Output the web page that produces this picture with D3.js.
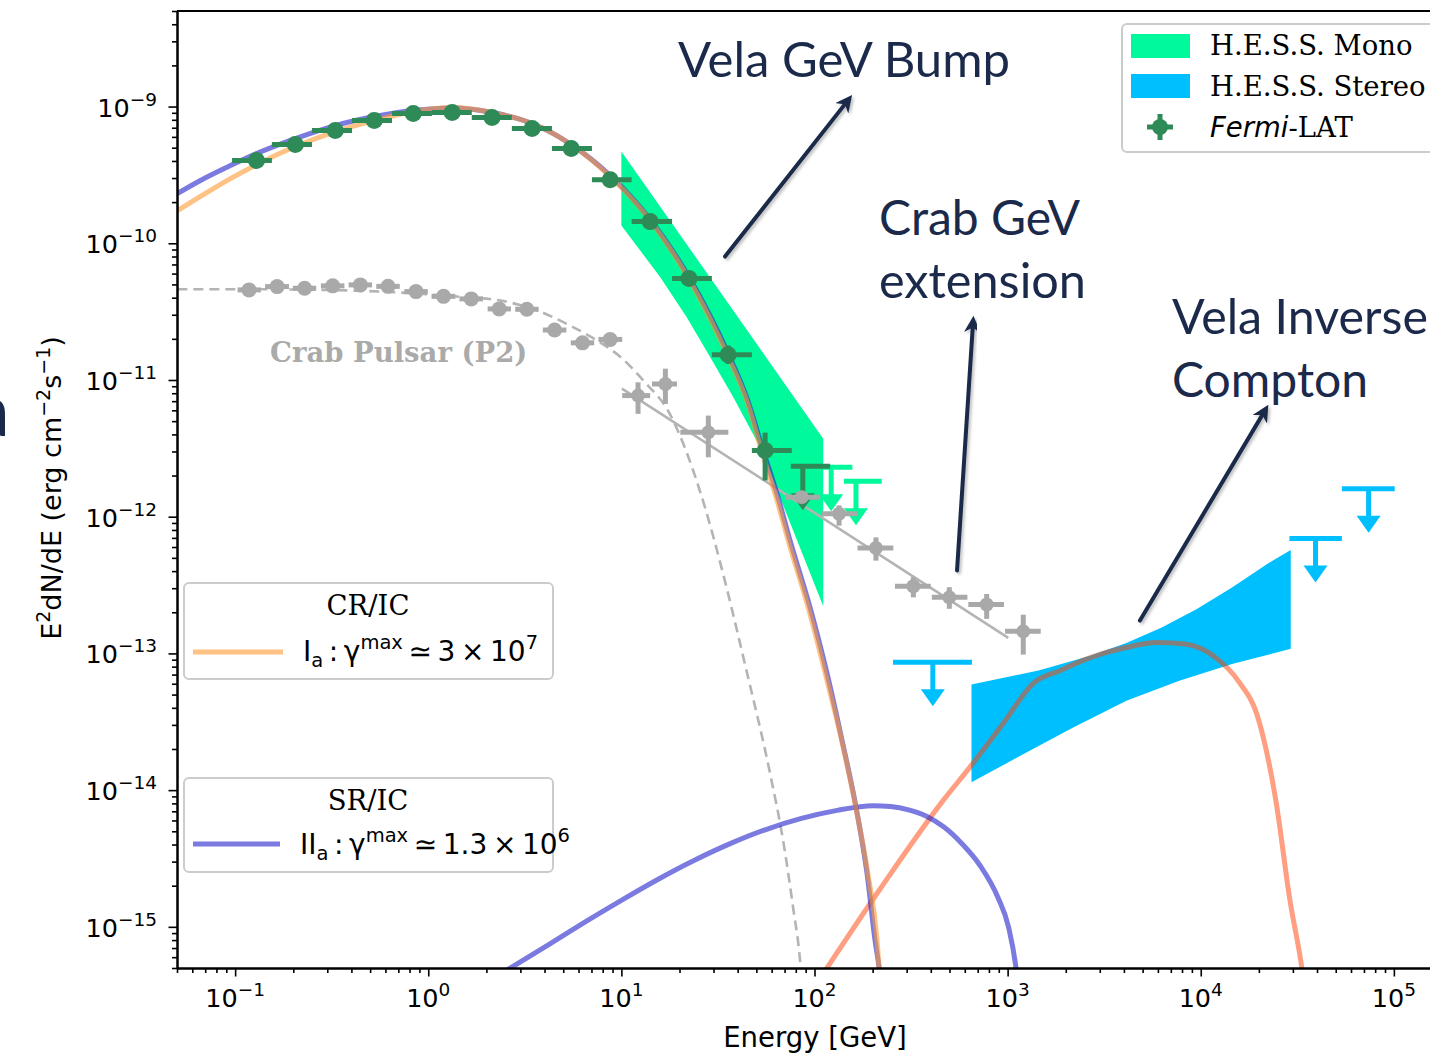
<!DOCTYPE html>
<html>
<head>
<meta charset="utf-8">
<script src="https://cdn.jsdelivr.net/npm/d3@7"></script>
<style>
  html, body { margin: 0; padding: 0; background: #ffffff; overflow: hidden; }
  svg { display: block; }
</style>
</head>
<body>
<svg id="chart" width="1430" height="1061"></svg>
<script>
// ---------------- data (energy in GeV, E^2 dN/dE in erg cm^-2 s^-1) ----------------

// Fermi-LAT Vela spectrum
const fermiE   = [0.129, 0.205, 0.330, 0.525, 0.836, 1.33, 2.14, 3.45, 5.50, 8.75, 14.1, 22.4, 35.7, 55.5];
const fermiELo = [0.0964, 0.155, 0.250, 0.403, 0.649, 1.045, 1.68, 2.71, 4.37, 7.04, 11.3, 18.3, 29.4, 47.4];
const fermiEHi = [0.155, 0.250, 0.403, 0.649, 1.045, 1.68, 2.71, 4.37, 7.04, 11.3, 18.3, 29.4, 47.4, 76.3];
const fermiF   = [4.03e-10, 5.27e-10, 6.67e-10, 7.90e-10, 8.89e-10, 9.04e-10, 8.31e-10, 6.90e-10, 4.93e-10, 2.92e-10, 1.44e-10, 5.52e-11, 1.53e-11, 3.05e-12];
const fermiFLo = [3.91e-10, 5.12e-10, 6.49e-10, 7.69e-10, 8.66e-10, 8.80e-10, 8.08e-10, 6.70e-10, 4.77e-10, 2.81e-10, 1.37e-10, 5.20e-11, 1.31e-11, 1.84e-12];
const fermiFHi = [4.15e-10, 5.42e-10, 6.85e-10, 8.11e-10, 9.12e-10, 9.28e-10, 8.54e-10, 7.10e-10, 5.09e-10, 3.03e-10, 1.51e-10, 5.84e-11, 1.79e-11, 4.12e-12];

// Fermi-LAT upper limit
const fermiUlE   = [87.0];
const fermiUlELo = [75.4];
const fermiUlEHi = [120.5];
const fermiUlF   = [2.34e-12];

// H.E.S.S. Mono upper limits
const monoUlE   = [122, 164];
const monoUlELo = [94.9, 142];
const monoUlEHi = [157, 223];
const monoUlF   = [2.30e-12, 1.82e-12];

// H.E.S.S. Stereo upper limits
const stereoUlE   = [410, 39300, 74000];
const stereoUlELo = [255, 28800, 53800];
const stereoUlEHi = [654, 53800, 101000];
const stereoUlF   = [8.61e-14, 6.92e-13, 1.60e-12];

// H.E.S.S. Mono butterfly (upper and lower edges)
const monoUpE = [10.0, 33.2, 111];
const monoUpF = [4.69e-10, 4.22e-11, 3.72e-12];
const monoLoE = [10.0, 15.9, 21.8, 28.8, 38.0, 52.3, 111];
const monoLoF = [1.35e-10, 5.64e-11, 2.88e-11, 1.47e-11, 7.47e-12, 3.22e-12, 2.21e-13];

// H.E.S.S. Stereo butterfly (upper and lower edges)
const stereoUpE = [650, 1445, 2712, 4121, 6281, 9546, 14520, 22080, 29250];
const stereoUpF = [5.92e-14, 7.49e-14, 9.64e-14, 1.19e-13, 1.55e-13, 2.11e-13, 3.04e-13, 4.51e-13, 5.71e-13];
const stereoLoE = [650, 1170, 2198, 4121, 7742, 14520, 29250];
const stereoLoF = [1.14e-14, 1.79e-14, 2.88e-14, 4.51e-14, 6.32e-14, 8.38e-14, 1.08e-13];

// Crab pulsar P2, low-energy points
const crabE   = [0.118, 0.165, 0.229, 0.320, 0.445, 0.619, 0.864, 1.20, 1.67, 2.33, 3.24, 4.51, 6.29, 8.75];
const crabELo = [0.103, 0.143, 0.199, 0.278, 0.387, 0.538, 0.751, 1.04, 1.45, 2.03, 2.82, 3.92, 5.47, 7.61];
const crabEHi = [0.136, 0.190, 0.263, 0.368, 0.512, 0.712, 0.994, 1.38, 1.92, 2.68, 3.73, 5.19, 7.23, 10.1];
const crabF   = [4.56e-11, 4.82e-11, 4.69e-11, 4.88e-11, 4.96e-11, 4.84e-11, 4.43e-11, 4.09e-11, 3.92e-11, 3.31e-11, 3.29e-11, 2.32e-11, 1.87e-11, 1.98e-11];
const crabFLo = [4.40e-11, 4.66e-11, 4.53e-11, 4.72e-11, 4.80e-11, 4.68e-11, 4.27e-11, 3.94e-11, 3.77e-11, 3.17e-11, 3.14e-11, 2.20e-11, 1.76e-11, 1.86e-11];
const crabFHi = [4.72e-11, 4.98e-11, 4.85e-11, 5.04e-11, 5.12e-11, 5.00e-11, 4.59e-11, 4.24e-11, 4.07e-11, 3.45e-11, 3.44e-11, 2.44e-11, 1.98e-11, 2.10e-11];

// Crab pulsar P2, high-energy points
const crabHeE   = [12.2, 16.9, 28.2, 85.9, 134, 208, 325, 499, 779, 1205];
const crabHeELo = [10.1, 14.4, 20.2, 70.4, 109, 167, 261, 405, 626, 970];
const crabHeEHi = [14.1, 19.4, 35.8, 107, 166, 256, 400, 619, 958, 1484];
const crabHeF   = [7.69e-12, 9.35e-12, 4.14e-12, 1.39e-12, 1.05e-12, 5.91e-13, 3.10e-13, 2.57e-13, 2.28e-13, 1.45e-13];
const crabHeFLo = [5.65e-12, 6.68e-12, 2.72e-12, 1.30e-12, 8.60e-13, 4.77e-13, 2.57e-13, 2.12e-13, 1.79e-13, 9.80e-14];
const crabHeFHi = [9.62e-12, 1.21e-11, 5.49e-12, 1.48e-12, 1.21e-12, 7.06e-13, 3.61e-13, 3.05e-13, 2.72e-13, 1.92e-13];

// Crab power-law fit and cutoff fit
const crabPlE = [10.06, 1008];
const crabPlF = [8.65e-12, 1.30e-13];
const crabCutE = [0.0502, 0.120, 0.311, 0.716, 1.30, 2.36, 3.67, 5.43, 7.49, 9.86, 13.0, 17.9, 20.9, 27.1, 33.6, 43.7, 58.9, 68.8, 77.5, 84.2, 86.3];
const crabCutF = [4.61e-11, 4.61e-11, 4.55e-11, 4.36e-11, 4.11e-11, 3.81e-11, 3.22e-11, 2.50e-11, 1.94e-11, 1.48e-11, 9.90e-12, 5.58e-12, 3.43e-12, 1.17e-12, 3.84e-13, 8.28e-14, 1.32e-14, 4.27e-15, 1.38e-15, 5.66e-16, 3.71e-16];

// Model curves
const srE = [0.0502, 0.0661, 0.0945, 0.129, 0.205, 0.330, 0.525, 0.836, 1.33, 2.145, 3.454, 5.498, 8.750, 14.10, 22.44, 35.71, 44.78, 54.19, 64.80, 74.76, 94.89, 116.2, 139.0, 164.2, 187.2, 205.9, 216.0, 221.2];
const srF = [2.31e-10, 2.88e-10, 3.70e-10, 4.53e-10, 5.83e-10, 7.26e-10, 8.45e-10, 9.35e-10, 9.75e-10, 9.04e-10, 7.51e-10, 5.27e-10, 3.13e-10, 1.49e-10, 5.61e-11, 1.56e-11, 7.31e-12, 3.04e-12, 1.38e-12, 6.68e-13, 2.16e-13, 7.11e-14, 2.30e-14, 7.45e-15, 2.45e-15, 7.92e-16, 5.03e-16, 3.71e-16];
const crE = [0.0502, 0.0661, 0.0945, 0.129, 0.205, 0.330, 0.525, 0.836, 1.33, 2.145, 3.454, 5.498, 8.750, 14.10, 22.44, 35.71, 44.78, 53.55, 64.03, 73.87, 93.76, 114.8, 139.0, 164.2, 189.4, 210.9, 216.0, 226.5];
const crF = [1.73e-10, 2.20e-10, 2.97e-10, 3.76e-10, 5.10e-10, 6.57e-10, 7.90e-10, 9.19e-10, 9.83e-10, 9.04e-10, 7.51e-10, 5.27e-10, 3.08e-10, 1.47e-10, 5.43e-11, 1.48e-11, 6.95e-12, 2.94e-12, 1.31e-12, 6.36e-13, 2.06e-13, 6.77e-14, 2.23e-14, 7.32e-15, 2.41e-15, 7.92e-16, 5.03e-16, 3.71e-16];
const srIcE = [2.30, 4.35, 6.66, 10.2, 15.6, 23.9, 36.6, 56.0, 85.6, 131, 201, 248, 307, 380, 470, 582, 720, 891, 1012, 1101, 1132];
const srIcF = [4.40e-16, 7.64e-16, 1.11e-15, 1.59e-15, 2.24e-15, 3.07e-15, 4.06e-15, 5.15e-15, 6.21e-15, 7.11e-15, 7.68e-15, 7.58e-15, 7.18e-15, 6.45e-15, 5.35e-15, 4.04e-15, 2.81e-15, 1.64e-15, 9.91e-16, 5.20e-16, 3.72e-16];
const velaIcE = [101, 219, 463, 647, 946, 1371, 1866, 2673, 4055, 5929, 8279, 12130, 15600, 20000, 24490, 28970, 33420, 34590];
const velaIcF = [3.72e-16, 1.90e-15, 8.38e-15, 1.51e-14, 3.06e-14, 6.11e-14, 7.48e-14, 9.31e-14, 1.10e-13, 1.20e-13, 1.17e-13, 9.16e-14, 6.32e-14, 3.22e-14, 8.38e-15, 1.56e-15, 4.94e-16, 3.41e-16];

// Axis ticks
const xMajor = [0.1, 1, 10, 100, 1000, 1e4, 1e5];
const xMajorExp = ["\u22121", "0", "1", "2", "3", "4", "5"];
const yMajor = [1e-15, 1e-14, 1e-13, 1e-12, 1e-11, 1e-10, 1e-9];
const yMajorExp = ["\u221215", "\u221214", "\u221213", "\u221212", "\u221211", "\u221210", "\u22129"];

// Annotation arrows: [fromE, fromF, toE, toF]
const arrowVela   = [34.4, 8.0e-11, 149, 1.11e-9];
const arrowCrab   = [547, 4.04e-13, 662, 2.63e-11];
const arrowVelaIc = [4843, 1.74e-13, 21490, 5.97e-12];

// ---------------- styles ----------------
const C = {
  fermi: "#2e8b57",
  mono: "#00f99b",
  stereo: "#00bfff",
  crab: "#a9a9a9",
  crabLine: "#b4b4b4",
  cr: "#ff9933",
  sr: "#2222cc",
  velaIc: "#ff6a3d",
  navy: "#1b2a4a",
  axis: "#000000"
};
const SANS = "'DejaVu Sans', sans-serif";
const SERIF = "'DejaVu Serif', serif";
const TITLE = "Lato, 'Open Sans', sans-serif";

// ---------------- scales ----------------
const plot = { left: 177, top: 11, right: 1452, bottom: 968 };
const x = d3.scaleLog().domain([0.05, 2e5]).range([plot.left, plot.right]);
const y = d3.scaleLog().domain([5e-16, 5e-9]).range([plot.bottom, plot.top]);

const svg = d3.select("#chart");
svg.append("rect").attr("width", 1430).attr("height", 1061).attr("fill", "#ffffff");

const defs = svg.append("defs");
defs.append("clipPath").attr("id", "plotClip").append("rect")
  .attr("x", plot.left).attr("y", plot.top)
  .attr("width", plot.right - plot.left).attr("height", plot.bottom - plot.top);

const shadow = defs.append("filter").attr("id", "shadow")
  .attr("x", "-20%").attr("y", "-20%").attr("width", "140%").attr("height", "140%");
shadow.append("feDropShadow").attr("dx", 2).attr("dy", 2).attr("stdDeviation", 1.5)
  .attr("flood-color", "#000").attr("flood-opacity", 0.25);

defs.append("marker").attr("id", "navyHead")
  .attr("viewBox", "0 0 10 10").attr("refX", 6).attr("refY", 5)
  .attr("markerWidth", 4.2).attr("markerHeight", 4.2).attr("markerUnits", "strokeWidth")
  .attr("orient", "auto")
  .append("path").attr("d", "M0,0 L10,5 L0,10 L3,5 Z").attr("fill", C.navy);

const zip = (a, b) => a.map((v, i) => [v, b[i]]);
const line = d3.line().x(d => x(d[0])).y(d => y(d[1]));
const smooth = d3.line().x(d => x(d[0])).y(d => y(d[1])).curve(d3.curveMonotoneX);

const g = svg.append("g").attr("clip-path", "url(#plotClip)");

// ---------------- bands ----------------
function bandPath(upE, upF, loE, loF) {
  const pts = zip(upE, upF).concat(zip(loE, loF).reverse());
  return line(pts) + "Z";
}
const monoPath = bandPath(monoUpE, monoUpF, monoLoE, monoLoF);
g.append("path").attr("d", monoPath).attr("fill", C.mono);

// Vela IC model under the Stereo band
const velaIcPath = smooth(zip(velaIcE, velaIcF));
g.append("path").attr("d", velaIcPath).attr("fill", "none")
  .attr("stroke", C.velaIc).attr("stroke-opacity", 0.65).attr("stroke-width", 5);

const stereoPath = bandPath(stereoUpE, stereoUpF, stereoLoE, stereoLoF);
g.append("path").attr("d", stereoPath).attr("fill", C.stereo);
defs.append("clipPath").attr("id", "stereoClip").append("path").attr("d", stereoPath);
g.append("g").attr("clip-path", "url(#stereoClip)")
  .append("path").attr("d", velaIcPath).attr("fill", "none")
  .attr("stroke", "#837f7d").attr("stroke-width", 5);

// ---------------- Crab fits ----------------
g.append("path").attr("d", smooth(zip(crabCutE, crabCutF))).attr("fill", "none")
  .attr("stroke", C.crabLine).attr("stroke-width", 2.6).attr("stroke-dasharray", "10,6");
g.append("path").attr("d", line(zip(crabPlE, crabPlF))).attr("fill", "none")
  .attr("stroke", C.crabLine).attr("stroke-width", 2.6);

// ---------------- Vela models ----------------
g.append("path").attr("d", smooth(zip(srIcE, srIcF))).attr("fill", "none")
  .attr("stroke", C.sr).attr("stroke-opacity", 0.6).attr("stroke-width", 5);
g.append("path").attr("d", smooth(zip(srE, srF))).attr("fill", "none")
  .attr("stroke", C.sr).attr("stroke-opacity", 0.6).attr("stroke-width", 5);
g.append("path").attr("d", smooth(zip(crE, crF))).attr("fill", "none")
  .attr("stroke", C.cr).attr("stroke-opacity", 0.6).attr("stroke-width", 5);

// ---------------- upper limits ----------------
const UL_LEN = 44, HEAD_W = 24, HEAD_H = 17;
function upperLimits(E, ELo, EHi, F, color) {
  E.forEach((e, i) => {
    const cx = x(e), cy = y(F[i]);
    const ul = g.append("g");
    ul.append("line").attr("x1", x(ELo[i])).attr("x2", x(EHi[i]))
      .attr("y1", cy).attr("y2", cy).attr("stroke", color).attr("stroke-width", 5);
    ul.append("line").attr("x1", cx).attr("x2", cx)
      .attr("y1", cy).attr("y2", cy + UL_LEN - HEAD_H + 1).attr("stroke", color).attr("stroke-width", 5);
    ul.append("path")
      .attr("d", `M${cx - HEAD_W / 2},${cy + UL_LEN - HEAD_H} L${cx + HEAD_W / 2},${cy + UL_LEN - HEAD_H} L${cx},${cy + UL_LEN} Z`)
      .attr("fill", color);
  });
}
upperLimits(monoUlE, monoUlELo, monoUlEHi, monoUlF, C.mono);
upperLimits(fermiUlE, fermiUlELo, fermiUlEHi, fermiUlF, C.fermi);
upperLimits(stereoUlE, stereoUlELo, stereoUlEHi, stereoUlF, C.stereo);

// ---------------- points with error bars ----------------
function errorPoints(E, ELo, EHi, F, FLo, FHi, color, r) {
  const pts = g.append("g");
  E.forEach((e, i) => {
    const cx = x(e), cy = y(F[i]);
    pts.append("line").attr("x1", x(ELo[i])).attr("x2", x(EHi[i]))
      .attr("y1", cy).attr("y2", cy).attr("stroke", color).attr("stroke-width", 5);
    pts.append("line").attr("x1", cx).attr("x2", cx)
      .attr("y1", y(FLo[i])).attr("y2", y(FHi[i])).attr("stroke", color).attr("stroke-width", 5);
    pts.append("circle").attr("cx", cx).attr("cy", cy).attr("r", r).attr("fill", color);
  });
}
errorPoints(crabE, crabELo, crabEHi, crabF, crabFLo, crabFHi, C.crab, 7.5);
errorPoints(crabHeE, crabHeELo, crabHeEHi, crabHeF, crabHeFLo, crabHeFHi, C.crab, 7);
errorPoints(fermiE, fermiELo, fermiEHi, fermiF, fermiFLo, fermiFHi, C.fermi, 8.5);

// ---------------- axes ----------------
const isMajor = v => Math.abs(Math.log10(v) - Math.round(Math.log10(v))) < 1e-9;
const axisStyle = sel => {
  sel.selectAll(".domain").attr("stroke", C.axis).attr("stroke-width", 2);
  sel.selectAll(".tick line").attr("stroke", C.axis).attr("stroke-width", 1.6);
};

const xAxisG = svg.append("g").attr("transform", `translate(0,${plot.bottom})`);
xAxisG.append("g").call(d3.axisBottom(x).tickValues(x.ticks().filter(v => !isMajor(v)))
  .tickSize(5).tickSizeOuter(0).tickFormat("")).call(axisStyle);
xAxisG.append("g").call(d3.axisBottom(x).tickValues(xMajor)
  .tickSize(8.5).tickSizeOuter(0).tickFormat("")).call(axisStyle);

const yAxisG = svg.append("g").attr("transform", `translate(${plot.left},0)`);
yAxisG.append("g").call(d3.axisLeft(y).tickValues(y.ticks().filter(v => !isMajor(v)))
  .tickSize(5).tickSizeOuter(0).tickFormat("")).call(axisStyle);
yAxisG.append("g").call(d3.axisLeft(y).tickValues(yMajor)
  .tickSize(8.5).tickSizeOuter(0).tickFormat("")).call(axisStyle);

// top spine
svg.append("line").attr("x1", plot.left).attr("x2", plot.right)
  .attr("y1", plot.top).attr("y2", plot.top).attr("stroke", C.axis).attr("stroke-width", 2);

function powerLabel(parent, px, py, exp, anchor) {
  const t = parent.append("text").attr("x", px).attr("y", py)
    .attr("text-anchor", anchor).attr("font-family", SANS).attr("font-size", 25.5).attr("fill", "#000");
  t.append("tspan").text("10");
  t.append("tspan").attr("dy", -11).attr("font-size", 18.5).text(exp);
  return t;
}
xMajor.forEach((v, i) => powerLabel(svg, x(v), plot.bottom + 39, xMajorExp[i], "middle"));
yMajor.forEach((v, i) => powerLabel(svg, plot.left - 20, y(v) + 10, yMajorExp[i], "end"));

// axis titles
svg.append("text").attr("x", 815).attr("y", 1047).attr("text-anchor", "middle")
  .attr("font-family", SANS).attr("font-size", 27.5).text("Energy [GeV]");
const yl = svg.append("text").attr("transform", "translate(61,488) rotate(-90)")
  .attr("text-anchor", "middle").attr("font-family", SANS).attr("font-size", 27);
yl.append("tspan").text("E");
yl.append("tspan").attr("dy", -11).attr("font-size", 19).text("2");
yl.append("tspan").attr("dy", 11).text("dN/dE (erg cm");
yl.append("tspan").attr("dy", -11).attr("font-size", 19).text("\u22122");
yl.append("tspan").attr("dy", 11).text("s");
yl.append("tspan").attr("dy", -11).attr("font-size", 19).text("\u22121");
yl.append("tspan").attr("dy", 11).text(")");

// Crab label
svg.append("text").attr("x", 270).attr("y", 362).attr("font-family", SERIF)
  .attr("font-weight", "bold").attr("font-size", 27.5).attr("fill", "#aaaaaa")
  .text("Crab Pulsar (P2)");

// ---------------- legends ----------------
function legendBox(x0, y0, w, h) {
  svg.append("rect").attr("x", x0).attr("y", y0).attr("width", w).attr("height", h)
    .attr("rx", 5).attr("fill", "#ffffff").attr("fill-opacity", 0.85)
    .attr("stroke", "#cccccc").attr("stroke-width", 2);
}

// data-set legend
legendBox(1122, 24, 340, 128);
svg.append("rect").attr("x", 1131).attr("y", 34).attr("width", 59).attr("height", 24).attr("fill", C.mono);
svg.append("rect").attr("x", 1131).attr("y", 74).attr("width", 59).attr("height", 24).attr("fill", C.stereo);
svg.append("text").attr("x", 1210).attr("y", 55).attr("font-family", SERIF).attr("font-size", 27.5).text("H.E.S.S. Mono");
svg.append("text").attr("x", 1210).attr("y", 96).attr("font-family", SERIF).attr("font-size", 27.5).text("H.E.S.S. Stereo");
const lm = svg.append("g");
lm.append("line").attr("x1", 1147).attr("x2", 1173).attr("y1", 127).attr("y2", 127).attr("stroke", C.fermi).attr("stroke-width", 5);
lm.append("line").attr("x1", 1160).attr("x2", 1160).attr("y1", 114).attr("y2", 140).attr("stroke", C.fermi).attr("stroke-width", 5);
lm.append("circle").attr("cx", 1160).attr("cy", 127).attr("r", 8).attr("fill", C.fermi);
const ft = svg.append("text").attr("x", 1210).attr("y", 137).attr("font-size", 27.5);
ft.append("tspan").attr("font-family", SANS).attr("font-style", "italic").text("Fermi");
ft.append("tspan").attr("font-family", SERIF).text("-LAT");

// model legends
function mathLabel(px, py, parts) {
  const t = svg.append("text").attr("x", px).attr("y", py)
    .attr("font-family", SANS).attr("font-size", 28).attr("fill", "#000");
  let shift = 0;
  parts.forEach(p => {
    const target = p.sub ? 6 : p.sup ? -12 : 0;
    const ts = t.append("tspan").attr("dy", target - shift).text(p.t);
    if (p.sub || p.sup) ts.attr("font-size", 19.5);
    shift = target;
  });
}
legendBox(184, 583, 369, 96);
svg.append("text").attr("x", 368).attr("y", 615).attr("text-anchor", "middle")
  .attr("font-family", SERIF).attr("font-size", 27.5).text("CR/IC");
svg.append("line").attr("x1", 193).attr("x2", 283).attr("y1", 652).attr("y2", 652)
  .attr("stroke", C.cr).attr("stroke-opacity", 0.6).attr("stroke-width", 5);
mathLabel(303, 661, [{ t: "I" }, { t: "a", sub: true }, { t: "\u2009:\u2009\u03b3" }, { t: "max", sup: true },
  { t: "\u2009\u2243\u20093\u2009\u00d7\u200910" }, { t: "7", sup: true }]);

legendBox(184, 778, 369, 94);
svg.append("text").attr("x", 368).attr("y", 810).attr("text-anchor", "middle")
  .attr("font-family", SERIF).attr("font-size", 27.5).text("SR/IC");
svg.append("line").attr("x1", 193).attr("x2", 280).attr("y1", 844).attr("y2", 844)
  .attr("stroke", C.sr).attr("stroke-opacity", 0.6).attr("stroke-width", 5);
mathLabel(300, 854, [{ t: "II" }, { t: "a", sub: true }, { t: "\u2009:\u2009\u03b3" }, { t: "max", sup: true },
  { t: "\u2009\u2243\u20091.3\u2009\u00d7\u200910" }, { t: "6", sup: true }]);

// ---------------- annotations ----------------
function arrow(a) {
  svg.append("line")
    .attr("x1", x(a[0])).attr("y1", y(a[1])).attr("x2", x(a[2])).attr("y2", y(a[3]))
    .attr("stroke", C.navy).attr("stroke-width", 4).attr("stroke-linecap", "round")
    .attr("marker-end", "url(#navyHead)").attr("filter", "url(#shadow)");
}
arrow(arrowVela);
arrow(arrowCrab);
arrow(arrowVelaIc);

function title(px, py, str, len) {
  svg.append("text").attr("x", px).attr("y", py).attr("font-family", TITLE)
    .attr("font-size", 48).attr("fill", C.navy)
    .attr("textLength", len).attr("lengthAdjust", "spacingAndGlyphs").text(str);
}
title(678, 77, "Vela GeV Bump", 332);
title(879, 235, "Crab GeV", 201);
title(879, 298, "extension", 207);
title(1172, 334, "Vela Inverse", 256);
title(1172, 397, "Compton", 196);

// fragment of a neighbouring heading at the left edge
svg.append("text").attr("x", -27).attr("y", 436).attr("font-family", TITLE)
  .attr("font-size", 74).attr("fill", C.navy).text("a");
</script>
</body>
</html>
